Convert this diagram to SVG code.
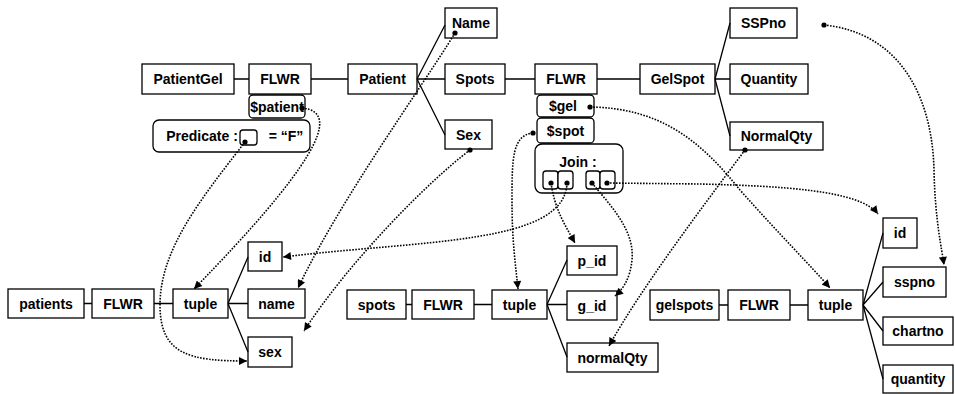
<svg xmlns="http://www.w3.org/2000/svg" width="955" height="394" viewBox="0 0 955 394">
<defs>
<style>
.b{fill:#fff;stroke:#000;stroke-width:1.3}
.t{font-family:"Liberation Sans",Arial,sans-serif;font-weight:bold;font-size:14px;fill:#000;text-anchor:middle}
.s{fill:none;stroke:#000;stroke-width:1.3}
.d{fill:none;stroke:#000;stroke-width:1.6;stroke-dasharray:1.6 1.4;marker-end:url(#ah)}
.p{fill:#000}
</style>
<marker id="ah" viewBox="0 0 10 10" refX="10" refY="5" markerWidth="9" markerHeight="8" markerUnits="userSpaceOnUse" orient="auto">
<path d="M0,0 L10,5 L0,10 z" fill="#000"/>
</marker>
</defs>
<rect width="955" height="394" fill="#fff"/>
<g id="nodes">
<g id="PatientGel"><rect class="b" x="142" y="64" width="92" height="30"/><text class="t" x="188" y="84">PatientGel</text></g>
<g id="FLWR1"><rect class="b" x="249" y="64" width="62" height="30"/><text class="t" x="280" y="84">FLWR</text></g>
<g id="Patient"><rect class="b" x="348" y="64" width="69" height="30"/><text class="t" x="382.5" y="84">Patient</text></g>
<g id="Name"><rect class="b" x="445" y="8" width="52" height="30"/><text class="t" x="471" y="28">Name</text></g>
<g id="Spots"><rect class="b" x="445" y="64" width="60" height="30"/><text class="t" x="475" y="84">Spots</text></g>
<g id="Sex"><rect class="b" x="445" y="120" width="47" height="29"/><text class="t" x="468.5" y="140">Sex</text></g>
<g id="patientVar"><rect class="b" x="249" y="95" width="56" height="23" rx="4"/><text class="t" x="277" y="112">$patient</text></g>
<g id="Predicate"><rect class="b" x="153" y="120" width="157" height="32" rx="6"/><text class="t" x="202" y="141">Predicate :</text><rect class="b" x="240" y="130" width="17" height="15" rx="3"/><text class="t" x="286" y="141">= “F”</text></g>
<g id="FLWR2"><rect class="b" x="535" y="64" width="62" height="30"/><text class="t" x="566" y="84">FLWR</text></g>
<g id="GelSpot"><rect class="b" x="640" y="64" width="75" height="30"/><text class="t" x="677.5" y="84">GelSpot</text></g>
<g id="SSPno"><rect class="b" x="730" y="8" width="67" height="30"/><text class="t" x="763.5" y="28">SSPno</text></g>
<g id="Quantity"><rect class="b" x="730" y="64" width="78" height="30"/><text class="t" x="769" y="84">Quantity</text></g>
<g id="NormalQty"><rect class="b" x="730" y="122" width="93" height="28"/><text class="t" x="776.5" y="141">NormalQty</text></g>
<g id="gelVar"><rect class="b" x="537" y="95" width="57" height="22" rx="4"/><text class="t" x="563" y="111">$gel</text></g>
<g id="spotVar"><rect class="b" x="537" y="118" width="57" height="25" rx="4"/><text class="t" x="565.5" y="136">$spot</text></g>
<g id="Join"><rect class="b" x="535" y="144" width="88" height="49" rx="7"/><text class="t" x="578" y="167">Join :</text>
<rect class="b" x="543" y="171" width="15" height="18" rx="3"/><rect class="b" x="558" y="171" width="15" height="18" rx="3"/>
<rect class="b" x="586" y="171" width="14" height="18" rx="3"/><rect class="b" x="600" y="171" width="15" height="18" rx="3"/></g>
<g id="patients"><rect class="b" x="8" y="289" width="76" height="29"/><text class="t" x="46" y="308.5">patients</text></g>
<g id="FLWR3"><rect class="b" x="92" y="289" width="62" height="29"/><text class="t" x="123" y="308.5">FLWR</text></g>
<g id="tuple1"><rect class="b" x="173" y="289" width="55" height="29"/><text class="t" x="200.5" y="308.5">tuple</text></g>
<g id="id1"><rect class="b" x="248" y="242" width="34" height="29"/><text class="t" x="265" y="261.5">id</text></g>
<g id="name"><rect class="b" x="248" y="289" width="57" height="29"/><text class="t" x="276.5" y="308.5">name</text></g>
<g id="sex"><rect class="b" x="248" y="337" width="44" height="30"/><text class="t" x="270" y="357">sex</text></g>
<g id="spots"><rect class="b" x="347" y="290" width="59" height="29"/><text class="t" x="376.5" y="309.5">spots</text></g>
<g id="FLWR4"><rect class="b" x="412" y="290" width="62" height="29"/><text class="t" x="443" y="309.5">FLWR</text></g>
<g id="tuple2"><rect class="b" x="492" y="290" width="55" height="29"/><text class="t" x="519.5" y="309.5">tuple</text></g>
<g id="p_id"><rect class="b" x="567" y="246" width="50" height="29"/><text class="t" x="592" y="265.5">p_id</text></g>
<g id="g_id"><rect class="b" x="567" y="291" width="50" height="29"/><text class="t" x="592" y="310.5">g_id</text></g>
<g id="normalQty"><rect class="b" x="567" y="343" width="91" height="29"/><text class="t" x="612.5" y="362.5">normalQty</text></g>
<g id="gelspots"><rect class="b" x="650" y="290" width="69" height="30"/><text class="t" x="684.5" y="310">gelspots</text></g>
<g id="FLWR5"><rect class="b" x="728" y="290" width="62" height="30"/><text class="t" x="759" y="310">FLWR</text></g>
<g id="tuple3"><rect class="b" x="808" y="290" width="55" height="30"/><text class="t" x="835.5" y="310">tuple</text></g>
<g id="id2"><rect class="b" x="883" y="218" width="34" height="30"/><text class="t" x="900" y="238">id</text></g>
<g id="sspno"><rect class="b" x="883" y="267" width="63" height="30"/><text class="t" x="914.5" y="287">sspno</text></g>
<g id="chartno"><rect class="b" x="883" y="317" width="70" height="28"/><text class="t" x="918" y="336">chartno</text></g>
<g id="quantity"><rect class="b" x="883" y="365" width="70" height="28"/><text class="t" x="918" y="384">quantity</text></g>
</g>
<g id="connectors">
<path class="s" d="M234,79H249M311,79H348M417,79L445,25M417,79H445M417,79L445,135M505,79H535M597,79H640M715,79L730,23M715,79H730M715,79L730,136"/>
<path class="s" d="M84,303.5H92M154,303.5H173M228,303.5L248,257M228,303.5H248M228,303.5L248,352"/>
<path class="s" d="M406,304.5H412M474,304.5H492M547,304.5L567,260M547,304.5H567M547,304.5L567,357"/>
<path class="s" d="M719,305H728M790,305H808M863,305L883,233M863,305L883,282M863,305L883,331M863,305L883,379"/>
<path class="d" d="M302,108 C345,112 310,170 194,289"/>
<path class="d" d="M245,142 C200,200 160,250 160,305 C160,355 190,361 247,361"/>
<path class="d" d="M455,33 C420,90 340,200 298,288"/>
<path class="d" d="M470,150 C430,180 350,260 304,331"/>
<path class="d" d="M567,183 C565,245 420,240 283,257"/>
<path class="d" d="M551,183 C555,210 565,225 575,243"/>
<path class="d" d="M533,133 C512,135 512,160 512,200 C512,240 515,260 518,289"/>
<path class="d" d="M592,183 C610,205 635,230 632,260 C630,280 622,290 615,296"/>
<path class="d" d="M607,183 L700,184 C780,186 860,190 878,214"/>
<path class="d" d="M590,107 C660,108 700,140 740,190 C780,235 810,265 830,288"/>
<path class="d" d="M745,150 C700,210 640,290 609,346"/>
<path class="d" d="M824,25 C895,32 932,90 934,170 C935,220 942,250 944,265"/>
<g class="p">
<circle cx="302" cy="108" r="2.6"/><circle cx="245" cy="142" r="2.6"/><circle cx="455" cy="33" r="2.6"/><circle cx="470" cy="150" r="2.6"/>
<circle cx="551" cy="183" r="2.6"/><circle cx="567" cy="183" r="2.6"/><circle cx="592" cy="183" r="2.6"/><circle cx="607" cy="183" r="2.6"/>
<circle cx="533" cy="133" r="2.6"/><circle cx="590" cy="107" r="2.6"/><circle cx="745" cy="150" r="2.6"/><circle cx="824" cy="25" r="2.6"/>
</g>
</g>
</svg>
